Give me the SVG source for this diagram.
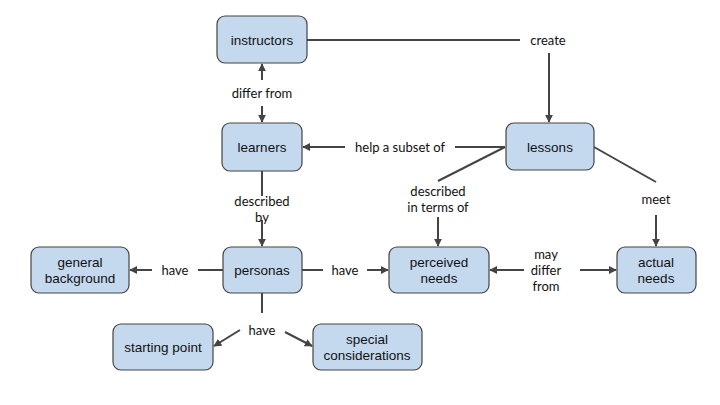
<svg xmlns="http://www.w3.org/2000/svg" width="720" height="405" viewBox="0 0 720 405">
<style>
.n rect{fill:#c5d9ee;stroke:#444;stroke-width:1.2}
.n text{font-family:"Liberation Sans",Arial,sans-serif;font-size:13.5px;fill:#111;text-anchor:middle}
.e line,.e polyline{stroke:#444;stroke-width:2;fill:none}
.l{font-family:Lato,"Open Sans","Liberation Sans",sans-serif;font-size:13px;fill:#111;text-anchor:middle}
</style>
<defs>
<marker id="a" viewBox="0 0 10 10" refX="9" refY="5" markerWidth="4" markerHeight="4" orient="auto" markerUnits="strokeWidth">
<path d="M0,0 L10,5 L0,10 z" fill="#444"/>
</marker>
</defs>
<rect width="720" height="405" fill="#fff"/>
<g class="e">
<polyline points="307,40 520,40"/>
<line x1="549" y1="53" x2="549" y2="122" marker-end="url(#a)"/>
<line x1="262" y1="80" x2="262" y2="64" marker-end="url(#a)"/>
<line x1="262" y1="106" x2="262" y2="122" marker-end="url(#a)"/>
<line x1="505" y1="147" x2="455" y2="147"/>
<line x1="345" y1="147" x2="303" y2="147" marker-end="url(#a)"/>
<line x1="505" y1="147" x2="438" y2="181"/>
<line x1="438" y1="217" x2="438" y2="246" marker-end="url(#a)"/>
<line x1="262" y1="171" x2="262" y2="196"/>
<line x1="262" y1="220" x2="262" y2="246" marker-end="url(#a)"/>
<line x1="594" y1="147" x2="656" y2="182"/>
<line x1="656" y1="215" x2="656" y2="246" marker-end="url(#a)"/>
<line x1="223" y1="270" x2="198" y2="270"/>
<line x1="152" y1="270" x2="130" y2="270" marker-end="url(#a)"/>
<line x1="302" y1="270" x2="323" y2="270"/>
<line x1="367" y1="270" x2="388" y2="270" marker-end="url(#a)"/>
<line x1="524" y1="270" x2="490" y2="270" marker-end="url(#a)"/>
<line x1="580" y1="270" x2="616" y2="270" marker-end="url(#a)"/>
<line x1="262" y1="293" x2="262" y2="313"/>
<line x1="240" y1="330" x2="214" y2="346" marker-end="url(#a)"/>
<line x1="285" y1="332" x2="312" y2="346" marker-end="url(#a)"/>
</g>
<g id="labels">
<text class="l" x="548" y="45">create</text>
<text class="l" x="262" y="98">differ from</text>
<text class="l" x="400" y="152">help a subset of</text>
<text class="l" x="438" y="196">described</text>
<text class="l" x="438" y="212">in terms of</text>
<text class="l" x="262" y="206">described</text>
<text class="l" x="262" y="222">by</text>
<text class="l" x="656" y="204">meet</text>
<text class="l" x="175" y="275">have</text>
<text class="l" x="345" y="275">have</text>
<text class="l" x="546" y="259">may</text>
<text class="l" x="546" y="275">differ</text>
<text class="l" x="546" y="291">from</text>
<text class="l" x="262" y="335">have</text>
</g>
<g id="instructors" class="n"><rect x="217" y="16" width="90" height="47" rx="8"/><text x="262" y="45">instructors</text></g>
<g id="learners" class="n"><rect x="222" y="123" width="80" height="48" rx="8"/><text x="262" y="152">learners</text></g>
<g id="lessons" class="n"><rect x="506" y="123" width="88" height="47" rx="8"/><text x="550" y="152">lessons</text></g>
<g id="general-background" class="n"><rect x="31" y="247" width="98" height="46" rx="8"/><text x="80" y="267">general</text><text x="80" y="283">background</text></g>
<g id="personas" class="n"><rect x="223" y="247" width="79" height="46" rx="8"/><text x="262" y="275">personas</text></g>
<g id="perceived-needs" class="n"><rect x="389" y="247" width="100" height="46" rx="8"/><text x="439" y="267">perceived</text><text x="439" y="283">needs</text></g>
<g id="actual-needs" class="n"><rect x="617" y="247" width="79" height="46" rx="8"/><text x="656" y="267">actual</text><text x="656" y="283">needs</text></g>
<g id="starting-point" class="n"><rect x="113" y="324" width="100" height="46" rx="8"/><text x="163" y="352">starting point</text></g>
<g id="special-considerations" class="n"><rect x="313" y="324" width="109" height="46" rx="8"/><text x="367" y="344">special</text><text x="367" y="360">considerations</text></g>
</svg>
